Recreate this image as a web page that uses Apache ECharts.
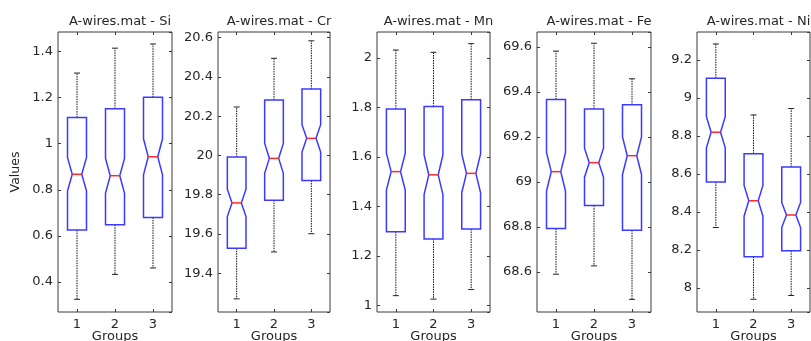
<!DOCTYPE html>
<html>
<head>
<meta charset="utf-8">
<script src="https://cdn.jsdelivr.net/npm/echarts@6/dist/echarts.min.js"></script>
<style>
  html, body { margin: 0; padding: 0; background: #ffffff; }
  #chart { width: 811px; height: 341px; }
</style>
</head>
<body>
<div id="chart"></div>
<script>
// Groups on the x axis and the measured elements (one panel each)
const groups = ['1', '2', '3'];
const elements = ['Si', 'Cr', 'Mn', 'Fe', 'Ni'];

// Box statistics per group: [lower whisker, Q1, median, Q3, upper whisker]
const siStats = [[0.325, 0.625, 0.867, 1.113, 1.306], [0.433, 0.648, 0.861, 1.151, 1.414], [0.461, 0.680, 0.943, 1.201, 1.432]];
const crStats = [[19.269, 19.527, 19.758, 19.992, 20.247], [19.508, 19.772, 19.985, 20.283, 20.495], [19.601, 19.872, 20.087, 20.338, 20.584]];
const mnStats = [[1.040, 1.298, 1.541, 1.794, 2.032], [1.026, 1.269, 1.528, 1.804, 2.023], [1.065, 1.309, 1.534, 1.831, 2.058]];
const feStats = [[68.590, 68.793, 69.046, 69.367, 69.582], [68.627, 68.895, 69.086, 69.325, 69.617], [68.478, 68.786, 69.117, 69.343, 69.459]];
const niStats = [[8.318, 8.558, 8.820, 9.105, 9.285], [7.940, 8.164, 8.459, 8.706, 8.911], [7.960, 8.195, 8.384, 8.637, 8.945]];

// Value-axis limits of each panel
const siLimits = [0.27, 1.484];
const crLimits = [19.202, 20.629];
const mnLimits = [0.974, 2.105];
const feLimits = [68.422, 69.667];
const niLimits = [7.873, 9.348];

// Observations per group (used for the median notch: 1.57 * IQR / sqrt(n))
const sampleCount = 110;

const panelStats = [siStats, crStats, mnStats, feStats, niStats];
const panelLimits = [siLimits, crLimits, mnLimits, feLimits, niLimits];

// Panel rectangles in pixels
const panelLeft = [58, 218, 377, 537, 697];
const panelWidth = [114, 112, 113, 114, 113];
const panelTop = 32;
const panelHeight = 280;

const FONT = 'DejaVu Sans';
const TEXT = '#262626';
const AXIS = '#3a3a3a';
const BOX_BLUE = '#3b3bff';
const MEDIAN_RED = '#ff2a2a';

function renderBox(params, api) {
  const idx = api.value(0);
  const lo = api.value(1), q1 = api.value(2), med = api.value(3), q3 = api.value(4), hi = api.value(5);
  const band = api.size([1, 0])[0];
  const half = band * 0.25;          // box half width
  const notchHalf = half * 0.5;      // half width at the median
  const capHalf = 3;
  const x = api.coord([idx, med])[0];
  const y = v => api.coord([idx, v])[1];
  const notch = 1.57 * (q3 - q1) / Math.sqrt(sampleCount);
  const nLo = Math.max(q1, med - notch), nHi = Math.min(q3, med + notch);

  const whiskerStyle = { stroke: '#111111', lineWidth: 1, lineDash: [1.5, 1], fill: null };
  const capStyle = { stroke: '#222222', lineWidth: 1, fill: null };

  return {
    type: 'group',
    children: [
      { type: 'line', shape: { x1: x, y1: y(q3), x2: x, y2: y(hi) }, style: whiskerStyle },
      { type: 'line', shape: { x1: x, y1: y(q1), x2: x, y2: y(lo) }, style: whiskerStyle },
      { type: 'line', shape: { x1: x - capHalf, y1: y(hi), x2: x + capHalf, y2: y(hi) }, style: capStyle },
      { type: 'line', shape: { x1: x - capHalf, y1: y(lo), x2: x + capHalf, y2: y(lo) }, style: capStyle },
      {
        type: 'polygon',
        shape: {
          points: [
            [x - half, y(q1)], [x - half, y(nLo)], [x - notchHalf, y(med)], [x - half, y(nHi)], [x - half, y(q3)],
            [x + half, y(q3)], [x + half, y(nHi)], [x + notchHalf, y(med)], [x + half, y(nLo)], [x + half, y(q1)]
          ]
        },
        style: { stroke: BOX_BLUE, lineWidth: 1.5, fill: null }
      },
      { type: 'line', shape: { x1: x - notchHalf, y1: y(med), x2: x + notchHalf, y2: y(med) }, style: { stroke: MEDIAN_RED, lineWidth: 1.5 } }
    ]
  };
}

const grid = [], xAxis = [], yAxis = [], series = [], title = [];

elements.forEach((el, p) => {
  grid.push({
    left: panelLeft[p], top: panelTop, width: panelWidth[p], height: panelHeight,
    show: true, borderColor: AXIS, borderWidth: 1, backgroundColor: '#ffffff',
    containLabel: false, outerBoundsMode: 'none'
  });
  title.push({
    text: 'A-wires.mat - ' + el,
    left: panelLeft[p] + panelWidth[p] / 2, top: 10, textAlign: 'center',
    textStyle: { fontFamily: FONT, fontSize: 13, fontWeight: 'normal', color: TEXT }
  });
  const tickStyle = { show: true, inside: true, length: 3, alignWithLabel: true, lineStyle: { color: AXIS } };
  xAxis.push({
    type: 'category', gridIndex: p, data: groups, position: 'bottom',
    axisLine: { show: false }, axisTick: tickStyle, splitLine: { show: false },
    axisLabel: { fontFamily: FONT, fontSize: 13, color: TEXT, margin: 6 },
    name: 'Groups', nameLocation: 'middle', nameGap: 18, nameMoveOverlap: false,
    nameTextStyle: { fontFamily: FONT, fontSize: 13, color: TEXT }
  });
  xAxis.push({
    type: 'category', gridIndex: p, data: groups, position: 'top',
    axisLine: { show: false }, axisTick: tickStyle, axisLabel: { show: false }, splitLine: { show: false }
  });
  const lim = panelLimits[p];
  const yBase = {
    type: 'value', gridIndex: p, min: lim[0], max: lim[1], splitNumber: 7, scale: true,
    axisLine: { show: false }, splitLine: { show: false },
    axisTick: { show: true, inside: true, length: 3, lineStyle: { color: AXIS } }
  };
  yAxis.push(Object.assign({}, yBase, {
    position: 'left',
    axisLabel: { fontFamily: FONT, fontSize: 13, color: TEXT, margin: 5, showMinLabel: false, showMaxLabel: false },
    name: p === 0 ? 'Values' : '', nameLocation: 'middle', nameGap: 36, nameRotate: 90, nameMoveOverlap: false,
    nameTextStyle: { fontFamily: FONT, fontSize: 12.5, color: TEXT }
  }));
  yAxis.push(Object.assign({}, yBase, { position: 'right', axisLabel: { show: false } }));

  series.push({
    type: 'custom',
    name: el,
    xAxisIndex: 2 * p, yAxisIndex: 2 * p,
    renderItem: renderBox,
    encode: { x: 0, y: [1, 2, 3, 4, 5] },
    data: panelStats[p].map((s, i) => [i].concat(s)),
    clip: false,
    silent: true
  });
});

const chart = echarts.init(document.getElementById('chart'));
chart.setOption({
  animation: false,
  backgroundColor: '#ffffff',
  title, grid, xAxis, yAxis, series
});
</script>
</body>
</html>
